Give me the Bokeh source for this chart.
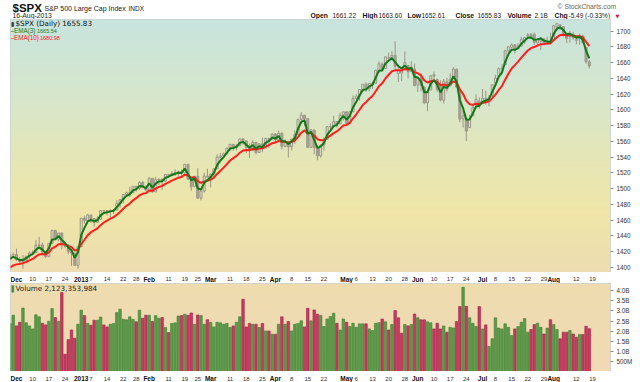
import numpy as np
import pandas as pd
from bokeh.plotting import figure
from bokeh.layouts import column
from bokeh.models import Range1d, FixedTicker, Label, ColumnDataSource, CustomJSTickFormatter
from bokeh.core.properties import value
from bokeh.embed import file_html
from bokeh.resources import INLINE

# ---------------- data ----------------
holidays = ["2012-11-22", "2012-12-25", "2013-01-01", "2013-01-21", "2013-02-18",
            "2013-03-29", "2013-05-27", "2013-07-04"]

# closes before the visible window (only used to warm up the moving averages)
warmup_closes = [1427.59, 1414.20, 1417.26, 1428.39, 1394.53, 1377.51, 1379.85, 1380.03,
                 1374.53, 1355.49, 1353.33, 1359.88, 1386.89, 1387.81, 1391.03, 1409.15,
                 1406.29, 1398.94, 1409.93]

# visible window: 2012-11-29 .. 2013-08-16
opens = [1409.9, 1416.0,
         1416.3, 1409.5, 1407.1, 1409.4, 1413.9, 1418.1, 1418.6, 1427.8, 1428.5, 1419.5, 1413.5, 1430.5, 1446.8, 1435.8, 1443.7, 1430.2, 1426.7, 1419.8, 1418.1, 1402.4,
         1426.2, 1462.4, 1459.4, 1466.5, 1461.9, 1457.2, 1461.0, 1472.1, 1472.1, 1470.7, 1472.3, 1472.6, 1480.9, 1486.0, 1492.6, 1494.8, 1494.8, 1503.0, 1500.2, 1507.8, 1502.0,
         1498.1, 1513.2, 1495.7, 1511.3, 1512.1, 1509.4, 1517.9, 1517.0, 1519.4, 1520.3, 1521.4, 1519.8, 1530.9, 1512.0, 1502.4, 1515.6, 1487.9, 1496.9, 1516.0,
         1514.7, 1518.2, 1525.2, 1539.8, 1541.5, 1544.3, 1551.2, 1556.2, 1552.5, 1554.5, 1563.2, 1560.7, 1552.1, 1548.3, 1558.7, 1545.9, 1556.9, 1551.7, 1563.8, 1562.9,
         1569.2, 1562.2, 1570.3, 1553.7, 1559.9, 1553.3, 1563.1, 1568.6, 1587.7, 1593.3, 1588.8, 1552.4, 1574.6, 1552.0, 1541.6, 1555.3, 1562.5, 1578.8, 1578.8, 1585.2, 1582.3, 1593.6,
         1597.6, 1582.8, 1597.6, 1614.4, 1617.6, 1625.9, 1632.7, 1626.7, 1632.1, 1633.8, 1649.1, 1658.1, 1652.4, 1665.7, 1666.2, 1669.4, 1646.2, 1646.7, 1652.6, 1656.6, 1649.1, 1652.1,
         1631.7, 1640.7, 1629.1, 1609.2, 1625.3, 1644.7, 1638.6, 1629.9, 1612.2, 1635.5, 1630.6, 1639.8, 1651.8, 1624.6, 1588.6, 1588.8, 1577.5, 1592.3, 1606.4, 1611.1,
         1609.8, 1614.3, 1611.5, 1618.7, 1634.2, 1642.9, 1652.3, 1657.4, 1675.3, 1679.6, 1682.7, 1677.9, 1681.1, 1686.2, 1694.4, 1695.9, 1696.1, 1685.2, 1687.3, 1690.3, 1687.9, 1687.8,
         1689.4, 1706.1, 1708.0, 1705.8, 1695.3, 1693.4, 1696.1, 1688.4, 1690.7, 1693.9, 1679.6, 1661.22]
highs = [1419.7, 1418.9,
         1423.7, 1413.1, 1415.6, 1413.9, 1420.3, 1421.6, 1434.3, 1438.6, 1431.4, 1419.5, 1430.7, 1448.0, 1447.8, 1443.7, 1443.7, 1430.2, 1429.4, 1422.8, 1418.1, 1426.7,
         1462.4, 1465.5, 1467.9, 1466.5, 1461.9, 1464.7, 1472.3, 1472.8, 1472.1, 1473.3, 1473.0, 1485.2, 1485.9, 1492.6, 1496.1, 1502.3, 1503.3, 1503.2, 1509.3, 1509.9, 1504.2,
         1514.4, 1513.2, 1514.9, 1512.5, 1512.9, 1518.3, 1518.3, 1522.3, 1524.7, 1523.1, 1524.2, 1530.9, 1530.9, 1512.0, 1515.6, 1525.8, 1498.9, 1520.1, 1525.3,
         1519.9, 1525.3, 1543.5, 1545.3, 1545.8, 1552.5, 1556.3, 1556.8, 1556.4, 1563.3, 1563.6, 1560.7, 1557.3, 1561.6, 1558.7, 1557.7, 1564.9, 1563.9, 1564.1, 1570.3,
         1570.6, 1573.7, 1571.5, 1562.6, 1559.9, 1563.1, 1573.9, 1589.1, 1597.4, 1593.3, 1588.8, 1575.4, 1574.6, 1554.4, 1555.9, 1565.6, 1579.6, 1583.0, 1592.6, 1585.8, 1596.7, 1597.6,
         1597.6, 1598.6, 1618.5, 1619.8, 1626.0, 1632.8, 1635.0, 1633.7, 1636.0, 1651.1, 1661.5, 1660.5, 1667.5, 1672.8, 1674.9, 1687.2, 1654.2, 1649.8, 1674.2, 1656.6, 1661.9, 1658.9,
         1640.4, 1646.5, 1629.3, 1622.6, 1644.4, 1648.7, 1640.1, 1637.7, 1639.3, 1640.8, 1646.5, 1654.2, 1652.5, 1624.6, 1599.2, 1588.8, 1593.8, 1606.8, 1620.1, 1615.9,
         1626.6, 1624.3, 1618.9, 1632.1, 1644.7, 1654.2, 1658.0, 1676.6, 1680.2, 1684.5, 1683.7, 1684.8, 1693.1, 1692.1, 1697.6, 1698.0, 1698.4, 1690.9, 1691.9, 1690.9, 1693.2, 1698.4,
         1707.9, 1709.7, 1709.2, 1705.8, 1695.3, 1700.2, 1699.4, 1691.5, 1696.8, 1695.5, 1679.6, 1663.60]
lows = [1409.0, 1411.6,
        1408.5, 1403.6, 1398.2, 1405.9, 1410.9, 1415.6, 1418.6, 1426.8, 1416.0, 1411.9, 1413.5, 1430.5, 1435.8, 1432.8, 1422.6, 1424.7, 1416.4, 1401.8, 1401.6, 1398.1,
        1426.2, 1455.5, 1458.6, 1456.6, 1451.6, 1457.2, 1461.0, 1467.6, 1465.7, 1463.8, 1467.6, 1472.6, 1475.6, 1481.2, 1489.9, 1489.5, 1494.8, 1496.3, 1498.1, 1500.1, 1496.8,
        1498.1, 1495.0, 1495.7, 1504.7, 1498.5, 1509.4, 1513.6, 1515.6, 1515.9, 1514.0, 1514.1, 1519.8, 1511.4, 1497.3, 1502.4, 1487.9, 1485.0, 1494.9, 1514.5,
        1501.5, 1512.3, 1525.2, 1538.1, 1541.5, 1542.9, 1547.4, 1548.2, 1548.3, 1554.5, 1555.7, 1545.1, 1538.6, 1548.3, 1543.5, 1545.9, 1546.2, 1551.7, 1551.9, 1561.1,
        1558.5, 1562.2, 1549.8, 1552.5, 1539.5, 1548.6, 1556.7, 1568.6, 1586.2, 1579.9, 1552.3, 1552.4, 1543.7, 1536.0, 1539.4, 1548.2, 1562.5, 1575.8, 1578.8, 1577.6, 1582.3, 1586.5,
        1581.3, 1582.8, 1597.6, 1614.2, 1611.8, 1622.7, 1623.1, 1623.7, 1626.7, 1633.8, 1646.7, 1648.6, 1652.4, 1663.5, 1662.7, 1648.9, 1635.5, 1636.9, 1652.6, 1640.1, 1648.6, 1630.7,
        1622.7, 1623.6, 1607.1, 1598.2, 1625.3, 1639.3, 1622.9, 1610.9, 1608.1, 1623.0, 1630.3, 1639.8, 1628.9, 1584.3, 1577.7, 1560.3, 1577.5, 1592.3, 1606.4, 1601.6,
        1609.8, 1606.8, 1604.6, 1614.7, 1634.2, 1642.9, 1647.7, 1657.4, 1672.3, 1677.9, 1671.8, 1677.9, 1681.1, 1684.1, 1690.9, 1691.6, 1682.6, 1680.7, 1676.0, 1681.9, 1682.4, 1684.9,
        1689.4, 1700.7, 1701.6, 1693.3, 1684.9, 1685.6, 1689.1, 1683.4, 1682.6, 1684.8, 1658.6, 1652.61]
closes = [1415.95, 1416.18,
          1409.46, 1407.05, 1409.28, 1413.94, 1418.07, 1418.55, 1427.84, 1428.48, 1419.45, 1413.58, 1430.36, 1446.79, 1435.81, 1443.69, 1430.15, 1426.66, 1419.83, 1418.10, 1402.43, 1426.19,
          1462.42, 1459.37, 1466.47, 1461.89, 1457.15, 1461.02, 1472.12, 1472.05, 1470.68, 1472.34, 1472.63, 1480.94, 1485.98, 1492.56, 1494.81, 1494.82, 1502.96, 1500.18, 1507.84, 1501.96, 1498.11,
          1513.17, 1495.71, 1511.29, 1512.12, 1509.39, 1517.93, 1517.01, 1519.43, 1520.33, 1521.38, 1519.79, 1530.94, 1511.95, 1502.42, 1515.60, 1487.85, 1496.94, 1515.99, 1514.68,
          1518.20, 1525.20, 1539.79, 1541.46, 1544.26, 1551.18, 1556.22, 1552.48, 1554.52, 1563.23, 1560.70, 1552.10, 1548.34, 1558.71, 1545.80, 1556.89, 1551.69, 1563.77, 1562.85, 1569.19,
          1562.17, 1570.25, 1553.69, 1559.98, 1553.28, 1563.07, 1568.61, 1587.73, 1593.37, 1588.85, 1552.36, 1574.57, 1552.01, 1541.61, 1555.25, 1562.50, 1578.78, 1578.79, 1585.16, 1582.24, 1593.61, 1597.57,
          1582.70, 1597.59, 1614.42, 1617.50, 1625.96, 1632.69, 1626.67, 1633.70, 1633.77, 1650.34, 1658.78, 1650.47, 1667.47, 1666.29, 1669.16, 1655.35, 1650.51, 1649.60, 1660.06, 1648.36, 1654.41, 1630.74,
          1640.42, 1631.38, 1608.90, 1622.56, 1643.38, 1642.81, 1626.13, 1612.52, 1636.36, 1626.73, 1639.04, 1651.81, 1628.93, 1588.19, 1592.43, 1573.09, 1588.03, 1603.26, 1613.20, 1606.28,
          1614.96, 1614.08, 1615.41, 1631.89, 1640.46, 1652.32, 1652.62, 1675.02, 1680.19, 1682.50, 1676.26, 1680.91, 1689.37, 1692.09, 1695.53, 1692.39, 1685.94, 1690.25, 1691.65, 1685.33, 1685.96, 1685.73,
          1706.87, 1709.67, 1707.14, 1697.37, 1690.91, 1697.48, 1691.42, 1689.47, 1694.16, 1685.39, 1661.32, 1655.83]
# daily volume, billions of shares
volumes = [2.38, 2.79,
           2.26, 2.44, 3.14, 2.41, 2.26, 2.11, 2.81, 2.71, 2.39, 2.31, 2.49, 3.12, 2.67, 2.49, 3.91, 0.86, 1.58, 2.06, 1.65, 2.34,
           3.04, 2.77, 2.38, 2.29, 2.54, 2.54, 2.70, 2.31, 2.21, 2.34, 2.38, 2.92, 3.09, 2.59, 2.56, 2.71, 2.58, 2.46, 3.04, 2.64, 2.79,
           2.79, 2.48, 2.77, 2.64, 2.67, 2.18, 1.93, 2.38, 2.41, 2.75, 2.77, 2.84, 2.79, 2.90, 2.34, 2.80, 2.77, 2.34, 2.57,
           2.43, 2.21, 2.44, 2.41, 2.34, 2.38, 2.18, 2.26, 2.44, 2.71, 3.58, 2.21, 2.38, 2.34, 2.34, 2.18, 2.38, 2.01, 2.01, 1.85,
           1.85, 2.34, 2.71, 2.34, 2.48, 2.01, 2.34, 2.38, 2.51, 2.21, 3.13, 2.51, 3.05, 2.84, 2.77, 2.23, 2.60, 2.72, 2.89, 2.39, 2.06, 2.60,
           2.44, 2.23, 2.39, 2.19, 2.36, 2.36, 2.36, 2.11, 2.03, 2.39, 2.42, 2.60, 2.46, 2.06, 2.33, 3.02, 2.66, 1.90, 2.33, 2.26, 2.33, 2.85,
           2.66, 2.56, 2.56, 2.46, 2.41, 2.11, 2.39, 2.11, 2.26, 1.95, 2.19, 2.16, 2.48, 3.22, 4.17, 3.23, 2.66, 2.39, 2.23, 3.22,
           2.11, 2.31, 1.24, 1.62, 2.66, 2.15, 2.11, 2.36, 2.19, 1.78, 2.11, 2.23, 2.44, 2.62, 1.95, 2.08, 2.33, 2.39, 2.19, 1.86, 2.15, 2.57,
           2.33, 2.08, 1.62, 1.95, 1.95, 2.03, 1.86, 1.70, 1.83, 1.83, 2.24, 2.12]

tick_dates = ["2012-12-03", "2012-12-10", "2012-12-17", "2012-12-24", "2013-01-02", "2013-01-07",
              "2013-01-14", "2013-01-22", "2013-01-28", "2013-02-01", "2013-02-11", "2013-02-19",
              "2013-02-25", "2013-03-01", "2013-03-11", "2013-03-18", "2013-03-25", "2013-04-01",
              "2013-04-08", "2013-04-15", "2013-04-22", "2013-05-01", "2013-05-06", "2013-05-13",
              "2013-05-20", "2013-05-28", "2013-06-03", "2013-06-10", "2013-06-17", "2013-06-24",
              "2013-07-01", "2013-07-08", "2013-07-15", "2013-07-22", "2013-07-29", "2013-08-01",
              "2013-08-12", "2013-08-19"]
tick_labels = ["Dec", "10", "17", "24", "2013", "7", "14", "22", "28", "Feb", "11", "19", "25",
               "Mar", "11", "18", "25", "Apr", "8", "15", "22", "May", "6", "13", "20", "28",
               "Jun", "10", "17", "24", "Jul", "8", "15", "22", "29", "Aug", "12", "19"]
tick_bold = [l.isalpha() or l == "2013" for l in tick_labels]

price_ticks = list(range(1400, 1701, 20))
volume_ticks = [0.5, 1.0, 1.5, 2.0, 2.5, 3.0, 3.5, 4.0]

title_symbol = "$SPX"
title_name = "S&P 500 Large Cap Index"
title_exchange = "INDX"
title_date = "16-Aug-2013"
quote_words = ["Open", "1661.22", "High", "1663.60", "Low", "1652.61", "Close", "1655.83",
               "Volume", "2.1B", "Chg", "-5.49 (-0.33%)"]
legend_price = "$SPX (Daily) 1655.83"
legend_ema3 = ("EMA(3)", "1665.54")
legend_ema10 = ("EMA(10)", "1680.98")
legend_volume = "Volume 2,123,353,984"

# ---------------- derived ----------------
ext_days = pd.bdate_range("2012-11-01", "2013-08-30")
ext_days = ext_days[~ext_days.isin(pd.to_datetime(holidays))]
day_list = list(ext_days)
n_warm = len(warmup_closes)
origin = day_list.index(pd.Timestamp("2012-12-03"))
x = np.arange(n_warm, n_warm + len(closes)) - origin
tick_x = [day_list.index(pd.Timestamp(d)) - origin for d in tick_dates]

all_closes = pd.Series(warmup_closes + closes)
ema3 = all_closes.ewm(span=3, adjust=False).mean().values[n_warm:]
ema10 = all_closes.ewm(span=10, adjust=False).mean().values[n_warm:]
prev = all_closes.values[n_warm - 1:-1]
up_day = np.array(closes) >= prev

o = np.array(opens); c = np.array(closes)
body_top = np.maximum(o, c); body_bot = np.minimum(o, c)
hollow = c >= o

FW, LB, RB = 600, 10, 30
FONT = "Liberation Sans"

xr = Range1d(-1.85, 183.55)
pr = Range1d(1393.4, 1714.9)
vr = Range1d(0, 4.36)


def gradient(stops, n=160):
    fr = np.linspace(1, 0, n)  # row 0 = bottom
    pos = [s[0] for s in stops]
    cols = np.array([[int(s[1][i:i + 2], 16) for i in (1, 3, 5)] for s in stops], dtype=float)
    img = np.empty((n, 1), dtype=np.uint32)
    view = img.view(dtype=np.uint8).reshape((n, 1, 4))
    for k in range(3):
        view[:, 0, k] = np.interp(fr, pos, cols[:, k]).round().astype(np.uint8)
    view[:, 0, 3] = 255
    return img


def pane(h, yr):
    f = figure(frame_width=FW, frame_height=h, x_range=xr, y_range=yr,
               x_axis_location=None, y_axis_location="right",
               toolbar_location=None, output_backend="svg",
               min_border_left=LB, min_border_right=RB, min_border_top=0, min_border_bottom=0,
               background_fill_color="#eee6b8", border_fill_color="white")
    f.grid.visible = False
    f.outline_line_color = "#9db5c9"
    f.outline_line_dash = "1 1"
    ax = f.yaxis[0]
    ax.axis_line_color = None
    ax.major_tick_out = 3
    ax.major_tick_in = 0
    ax.minor_tick_line_color = None
    ax.major_tick_line_color = "#8a8a8a"
    ax.major_label_text_font = FONT
    ax.major_label_text_font_size = "6.3px"
    ax.major_label_text_color = "#333333"
    ax.major_label_standoff = 3
    return f


def strip(h, ypos):
    f = figure(frame_width=FW, frame_height=h, x_range=xr, y_range=Range1d(0, 1),
               x_axis_location=None, y_axis_location=None, toolbar_location=None,
               output_backend="svg", min_border_left=LB, min_border_right=RB,
               min_border_top=0, min_border_bottom=0, outline_line_color=None,
               background_fill_color="white", border_fill_color="white")
    f.grid.visible = False
    tx = np.array(tick_x); tl = np.array(tick_labels); tb = np.array(tick_bold)
    f.text(x=tx[~tb], y=[ypos] * int((~tb).sum()), text=list(tl[~tb]), text_font=value(FONT),
           text_font_size="6px", text_align="center", text_baseline="middle", text_color="#333333")
    f.text(x=tx[tb], y=[ypos] * int(tb.sum()), text=list(tl[tb]), text_font=value(FONT),
           text_font_size="6.5px", text_font_style="bold", text_align="center",
           text_baseline="middle", text_color="#111111")
    return f


# ---------------- header ----------------
hdr = figure(frame_width=640, frame_height=19, x_range=Range1d(0, 640), y_range=Range1d(19, 0),
             x_axis_location=None, y_axis_location=None, toolbar_location=None,
             output_backend="svg", min_border=0, outline_line_color=None)
hdr.grid.visible = False
hdr.text(x=[2], y=[7.5], text=[title_symbol], text_font=value(FONT), text_font_size="11.5px",
         text_font_style="bold", text_baseline="middle", text_color="#111111")
hdr.text(x=[34], y=[7.5], text=[title_name], text_font=value(FONT), text_font_size="7px",
         text_baseline="middle", text_color="#222222")
hdr.text(x=[118], y=[7.5], text=[title_exchange], text_font=value(FONT), text_font_size="6.5px",
         text_baseline="middle", text_color="#222222")
hdr.text(x=[2], y=[14.6], text=[title_date], text_font=value(FONT), text_font_size="6.8px",
         text_baseline="middle", text_color="#222222")
hdr.text(x=[547], y=[6], text=["\u00a9 StockCharts.com"], text_font=value(FONT), text_font_size="6.8px",
         text_baseline="middle", text_color="#666666")
qx = [300, 322, 352, 368, 397, 411, 445, 467, 497, 524, 544, 558]
hdr.text(x=qx[0::2], y=[15] * 6, text=quote_words[0::2], text_font=value(FONT),
         text_font_size="6.8px", text_font_style="bold", text_baseline="middle", text_color="#111111")
hdr.text(x=qx[1::2], y=[15] * 6, text=quote_words[1::2], text_font=value(FONT),
         text_font_size="6.5px", text_baseline="middle", text_color="#222222")
hdr.text(x=[607], y=[15], text=["\u25bc"], text_font=value("DejaVu Sans"), text_font_size="5px",
         text_align="center", text_baseline="middle", text_color="#cc1144")

# ---------------- price pane ----------------
p = pane(253, pr)
p.image_rgba(image=[gradient([(0.0, "#c8e4dd"), (0.3, "#d6e6cc"), (0.55, "#e5e6b7"),
                              (0.76, "#efe6a8"), (1.0, "#eddcb1")])],
             x=xr.start, y=pr.start, dw=xr.end - xr.start, dh=pr.end - pr.start, level="image")
p.yaxis[0].ticker = FixedTicker(ticks=price_ticks)

src = ColumnDataSource(dict(x=x, h=highs, l=lows, top=body_top, bot=body_bot))
p.segment(x0="x", y0="h", x1="x", y1="top", source=src, line_color="#9a9686", line_width=1)
p.segment(x0="x", y0="bot", x1="x", y1="l", source=src, line_color="#9a9686", line_width=1)
p.vbar(x=x[hollow], width=0.62, top=body_top[hollow], bottom=body_bot[hollow],
       fill_color="#e9e7d6", fill_alpha=0.35, line_color="#9a9686", line_width=1)
p.vbar(x=x[~hollow], width=0.62, top=body_top[~hollow], bottom=body_bot[~hollow],
       fill_color="#aaa692", line_color="#9a9686", line_width=1)
p.line(x, ema10, line_color="#ff1f1f", line_width=2)
p.line(x, ema3, line_color="#13781a", line_width=2)

p.add_layout(Label(x=0.5, y=248.7, x_units="screen", y_units="screen", text="\u25ae", text_font="DejaVu Sans",
                   text_font_size="6px", text_color="#333333", text_baseline="middle"))
p.add_layout(Label(x=5, y=248.7, x_units="screen", y_units="screen", text=legend_price,
                   text_font="DejaVu Sans", text_font_size="7.2px", text_color="#111111",
                   text_baseline="middle"))
p.add_layout(Label(x=0, y=241.7, x_units="screen", y_units="screen", text="\u2013" + legend_ema3[0],
                   text_font=FONT, text_font_size="6.3px", text_color="#13781a",
                   text_baseline="middle"))
p.add_layout(Label(x=26.5, y=241.7, x_units="screen", y_units="screen", text=legend_ema3[1],
                   text_font=FONT, text_font_size="5.5px", text_color="#13781a",
                   text_baseline="middle"))
p.add_layout(Label(x=0, y=234.7, x_units="screen", y_units="screen", text="\u2013" + legend_ema10[0],
                   text_font=FONT, text_font_size="6.3px", text_color="#ee2222",
                   text_baseline="middle"))
p.add_layout(Label(x=29.5, y=234.7, x_units="screen", y_units="screen", text=legend_ema10[1],
                   text_font=FONT, text_font_size="5.5px", text_color="#ee2222",
                   text_baseline="middle"))

# ---------------- volume pane ----------------
v = pane(88, vr)
v.image_rgba(image=[gradient([(0.0, "#eedcaf"), (1.0, "#f0d9b4")])],
             x=xr.start, y=vr.start, dw=xr.end - xr.start, dh=vr.end - vr.start, level="image")
v.yaxis[0].ticker = FixedTicker(ticks=volume_ticks)
v.yaxis[0].formatter = CustomJSTickFormatter(
    code="return tick < 1 ? (tick * 1000).toFixed(0) + 'M' : tick.toFixed(1) + 'B';")
vfill = np.where(up_day, "#5b9b49", "#c83a60")
vline = np.where(up_day, "#3f7d33", "#9e2446")
v.vbar(x=x, width=0.78, top=volumes, bottom=0, fill_color=list(vfill), line_color=list(vline),
       line_width=0.6)
v.add_layout(Label(x=1, y=83.5, x_units="screen", y_units="screen", text="\u258c", text_font="DejaVu Sans",
                   text_font_size="6px", text_color="#4a8a3a", text_baseline="middle"))
v.add_layout(Label(x=5, y=83.5, x_units="screen", y_units="screen", text=legend_volume,
                   text_font="DejaVu Sans", text_font_size="7.2px", text_color="#222222",
                   text_baseline="middle"))

mid = strip(11, 0.5)
bot = strip(11, 0.45)

layout = column(hdr, p, mid, v, bot, spacing=0)
open("out.html", "w").write(file_html(layout, INLINE))
